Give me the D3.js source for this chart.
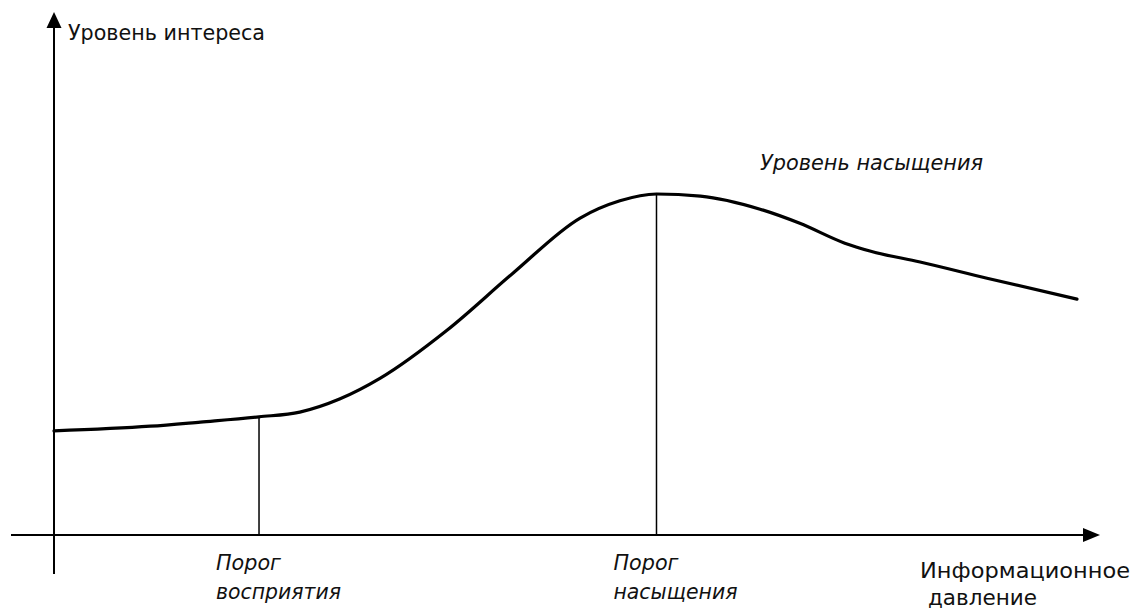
<!DOCTYPE html>
<html>
<head>
<meta charset="utf-8">
<script src="https://cdn.jsdelivr.net/npm/d3@7"></script>
<style>
	body { margin: 0; background: #fff; }
	text { font-family: "DejaVu Sans", Verdana, sans-serif; font-size: 21px; fill: #111; }
	.it { font-style: italic; }
</style>
</head>
<body>
<div id="canvas"></div>
<script>
var width = 1131,
	height = 611;

// curve of interest vs informational pressure (abstract units)
var pressure = [0, 0.92, 1.40, 1.96, 2.35, 2.73, 3.12, 3.76, 4.39, 5.03, 5.41, 5.76, 6.18, 6.75, 7.13, 7.56, 7.80, 8.28, 8.92, 9.78];
var interest = [1.99, 2.08, 2.16, 2.26, 2.35, 2.60, 3.00, 3.92, 5.01, 6.06, 6.39, 6.52, 6.48, 6.23, 5.96, 5.58, 5.43, 5.22, 4.91, 4.51];

// threshold markers
var thresholds = [1.96, 5.76];
var thresholdLabels = [["Порог", "восприятия"], ["Порог", "насыщения"]];

var yAxisLabel = "Уровень интереса";
var xAxisLabel = ["Информационное", "давление"];
var peakLabel = "Уровень насыщения";

var x = d3.scaleLinear().domain([0, 10]).range([54, 1100]);
var y = d3.scaleLinear().domain([0, 10]).range([535, 12]);

var svg = d3.select("#canvas").append("svg")
	.attr("width", width)
	.attr("height", height)
	.style("display", "block");

// axes
svg.append("line")
	.attr("x1", 11).attr("y1", y(0))
	.attr("x2", x(10) - 12).attr("y2", y(0))
	.attr("stroke", "#000").attr("stroke-width", 2);
svg.append("path")
	.attr("d", "M" + x(10) + "," + y(0) + "l-17,-7l0,14z")
	.attr("fill", "#000");

svg.append("line")
	.attr("x1", x(0)).attr("y1", 574)
	.attr("x2", x(0)).attr("y2", y(10) + 12)
	.attr("stroke", "#000").attr("stroke-width", 2);
svg.append("path")
	.attr("d", "M" + x(0) + "," + y(10) + "l-7.5,16l15,0z")
	.attr("fill", "#000");

var line = d3.line()
	.x(function(d){ return x(d[0]); })
	.y(function(d){ return y(d[1]); })
	.curve(d3.curveMonotoneX);

var pts = pressure.map(function(p, i){ return [p, interest[i]]; });

// threshold verticals
thresholds.forEach(function(t){
	var idx = pressure.indexOf(t);
	svg.append("line")
		.attr("x1", x(t)).attr("x2", x(t))
		.attr("y1", y(0)).attr("y2", y(interest[idx]))
		.attr("stroke", "#000").attr("stroke-width", 1.5);
});

svg.append("path")
	.datum(pts)
	.attr("d", line)
	.attr("fill", "none")
	.attr("stroke", "#000")
	.attr("stroke-width", 3.2)
	.attr("stroke-linecap", "round");

// labels
function label(cls, tx, ty, str, len){
	return svg.append("text")
		.attr("class", cls)
		.attr("x", tx).attr("y", ty)
		.attr("textLength", len)
		.attr("lengthAdjust", "spacingAndGlyphs")
		.text(str);
}

label("", 68, 40, yAxisLabel, 197);
label("it", 760, 170, peakLabel, 223);

var tlLen = [[65, 125], [65, 124]];
thresholds.forEach(function(t, i){
	label("it", x(t) - 43, 570, thresholdLabels[i][0], tlLen[i][0]);
	label("it", x(t) - 43, 599, thresholdLabels[i][1], tlLen[i][1]);
});

label("", 920, 578, xAxisLabel[0], 210);
label("", 928, 605, xAxisLabel[1], 109);
</script>
</body>
</html>
